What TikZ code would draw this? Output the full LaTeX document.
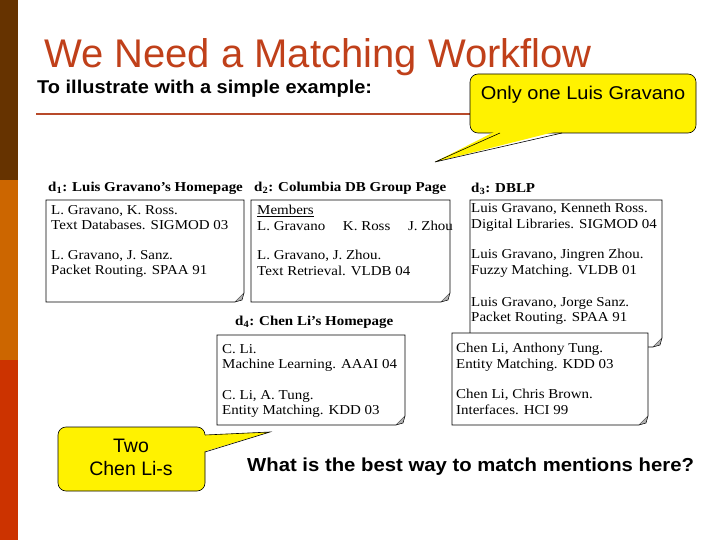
\documentclass[tikz,border=0pt]{standalone}
\usepackage{fontspec}
\setmainfont{Liberation Serif}[FakeStretch=1.1]
\newfontfamily\sans{Liberation Sans}
\newfontfamily\sanswide{Liberation Sans}[FakeStretch=1.08]
\begin{document}
\begin{tikzpicture}[x=1pt,y=-1pt,
  entry/.style={anchor=north west,align=left,inner sep=0pt,font=\fontsize{13.6}{15.5}\selectfont},
  head/.style={anchor=south west,inner sep=0pt,font=\fontsize{13.6}{15}\selectfont\bfseries},
  callout/.style={fill=yellow,draw=black,line width=0.6pt,rounded corners=8pt}]
\useasboundingbox (0,0) rectangle (720,540);
\fill[white] (0,0) rectangle (720,540);
\fill[fill={rgb,255:red,102;green,51;blue,0}] (0,0) rectangle (18,180);
\fill[fill={rgb,255:red,204;green,102;blue,0}] (0,180) rectangle (18,360);
\fill[fill={rgb,255:red,204;green,51;blue,0}] (0,360) rectangle (18,540);
\node[anchor=south west,inner sep=0pt,font=\sans\fontsize{40}{40}\selectfont,text={rgb,255:red,192;green,64;blue,26}] (title) at (44,76) {We Need a Matching Workflow};
\node[anchor=west,inner sep=0pt,font=\sanswide\bfseries\fontsize{18.5}{20}\selectfont] (sub) at (37,89) {To illustrate with a simple example:};
\draw[line width=2.5pt,draw={rgb,255:red,184;green,74;blue,42}] (36,114) -- (480,114);
% callout 1
\draw[callout] (470,74) rectangle (696,133);
\fill[yellow] (498,130) -- (435,162) -- (562,130) -- cycle;
\draw[line width=0.6pt] (500,133) -- (435,162) -- (562,133);
\node[font=\sanswide\fontsize{18.5}{20}\selectfont] (c1) at (583,95) {Only one Luis Gravano};
% doc boxes
\newcommand\docbox[5]{%
  \draw[line width=0.6pt,fill=white] (#2,#3) -- (#4,#3) -- (#4,#5-9) -- (#4-9,#5) -- (#2,#5) -- cycle;
  \fill[gray!60] (#4,#5-9) -- (#4-9,#5) -- (#4-2,#5-2) -- cycle;
  \draw[line width=0.5pt] (#4,#5-9) -- (#4-2,#5-2) -- (#4-9,#5);
  \coordinate (#1) at (#2,#3);}
\docbox{b1}{46}{200}{244}{302}
\docbox{b2}{251}{200}{450}{302}
\docbox{b3}{470}{200}{662}{347}
\docbox{b4}{217}{335}{405}{425}
\docbox{b5}{452}{333}{648}{425}
\node[head] (h1) at (48,195) {d\textsubscript{1}: Luis Gravano’s Homepage};
\node[head] (h2) at (254,195) {d\textsubscript{2}: Columbia DB Group Page};
\node[head] (h3) at (471,195) {d\textsubscript{3}: DBLP};
\node[head] (h4) at (235,329) {d\textsubscript{4}: Chen Li’s Homepage};
\node[entry] (e11) at (51,205) {L. Gravano, K. Ross.\\Text Databases. SIGMOD 03};
\node[entry] (e12) at (51,250) {L. Gravano, J. Sanz.\\Packet Routing. SPAA 91};
\node[entry] (e21) at (257,205) {\underline{Members}\\L. Gravano\hspace{1.3em}K. Ross\hspace{1.3em}J. Zhou};
\node[entry] (e22) at (257,250) {L. Gravano, J. Zhou.\\Text Retrieval. VLDB 04};
\node[entry] (e31) at (471,203) {Luis Gravano, Kenneth Ross.\\Digital Libraries. SIGMOD 04};
\node[entry] (e32) at (471,249) {Luis Gravano, Jingren Zhou.\\Fuzzy Matching. VLDB 01};
\node[entry] (e33) at (471,297) {Luis Gravano, Jorge Sanz.\\Packet Routing. SPAA 91};
\node[entry] (e41) at (222,344) {C. Li.\\Machine Learning. AAAI 04};
\node[entry] (e42) at (222,390) {C. Li, A. Tung.\\Entity Matching. KDD 03};
\node[entry] (e51) at (456,343) {Chen Li, Anthony Tung.\\Entity Matching. KDD 03};
\node[entry] (e52) at (456,389) {Chen Li, Chris Brown.\\Interfaces. HCI 99};
% callout 2
\draw[callout] (58,427) rectangle (205,491);
\fill[yellow] (203,435) -- (270,432) -- (203,452) -- cycle;
\draw[line width=0.6pt] (205,435) -- (270,432) -- (205,452);
\node[align=center,font=\sans\fontsize{19.5}{23}\selectfont] (c2) at (131,457) {Two\\Chen Li-s};
\node[anchor=west,inner sep=0pt,font=\sanswide\bfseries\fontsize{18.8}{22}\selectfont] (q) at (247,467) {What is the best way to match mentions here?};
\end{tikzpicture}
\end{document}
